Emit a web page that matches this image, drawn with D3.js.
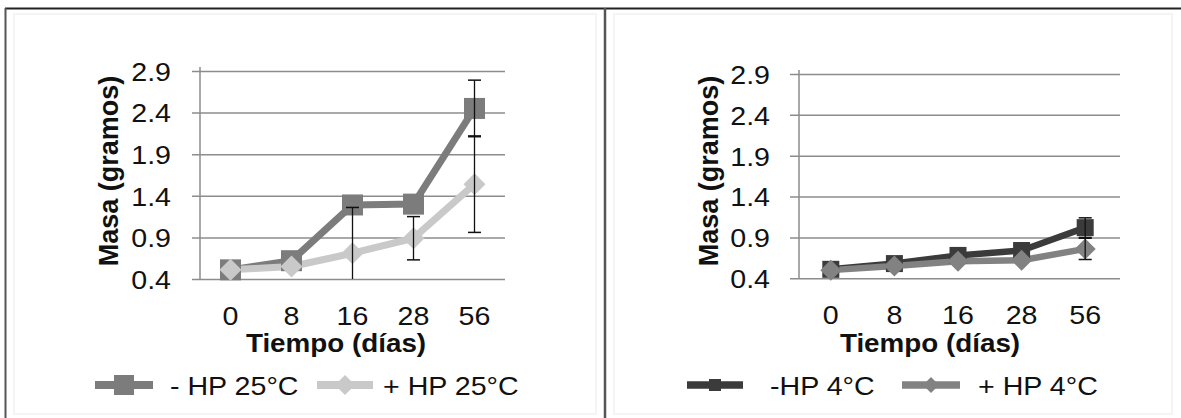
<!DOCTYPE html>
<html>
<head>
<meta charset="utf-8">
<script src="https://cdn.jsdelivr.net/npm/d3@7"></script>
<style>
  html, body { margin: 0; padding: 0; background: #fff; }
  svg { display: block; }
  text { font-family: "Liberation Sans", Arial, sans-serif; fill: #111; }
</style>
</head>
<body>
<svg id="chart" width="1181" height="418"></svg>
<script>
// ---------- data ----------
const categories = ["0", "8", "16", "28", "56"];
const yTicks = [0.4, 0.9, 1.4, 1.9, 2.4, 2.9];
const yTitle = "Masa (gramos)";
const xTitle = "Tiempo (días)";

// left panel (25 °C)
const seriesNames25 = ["- HP 25°C", "+ HP 25°C"];
const minusHP25 = [0.51, 0.62, 1.29, 1.30, 2.45];
const minusHP25Err = [0, 0, 0, 0, 0.34];
const plusHP25 = [0.51, 0.55, 0.71, 0.89, 1.54];
const plusHP25Err = [0, 0, 0.55, 0.26, 0.58];

// right panel (4 °C)
const seriesNames4 = ["-HP 4°C", "+ HP 4°C"];
const minusHP4 = [0.51, 0.58, 0.68, 0.74, 1.02];
const minusHP4Err = [0, 0, 0, 0, 0.12];
const plusHP4 = [0.50, 0.55, 0.61, 0.62, 0.76];
const plusHP4Err = [0, 0, 0, 0, 0.13];

// ---------- drawing ----------
const svg = d3.select("#chart");
const SX = 1.1; // horizontal text stretch seen in the reference

// frame lines
svg.append("line").attr("x1", 5).attr("x2", 1181).attr("y1", 8.5).attr("y2", 8.5)
  .attr("stroke", "#222").attr("stroke-width", 2);
svg.append("line").attr("x1", 5.5).attr("x2", 5.5).attr("y1", 8).attr("y2", 418)
  .attr("stroke", "#555").attr("stroke-width", 2);
svg.append("line").attr("x1", 605).attr("x2", 605).attr("y1", 8).attr("y2", 418)
  .attr("stroke", "#555").attr("stroke-width", 2.5);

const defs = svg.append("defs");
const blur = defs.append("filter").attr("id", "soft").attr("x", "-20%").attr("y", "-20%")
  .attr("width", "140%").attr("height", "140%");
blur.append("feGaussianBlur").attr("stdDeviation", 0.7);

function stretchedText(g, x, y, str, size, weight, anchor) {
  return g.append("text")
    .attr("transform", `translate(${x},${y}) scale(${SX},1)`)
    .attr("text-anchor", anchor || "start")
    .style("font-size", size + "px")
    .style("font-weight", weight || "normal")
    .text(str);
}

function panel(cfg) {
  const g = svg.append("g");
  const x = d3.scaleBand().domain(categories).range([cfg.left, cfg.right]);
  const y = d3.scaleLinear().domain([0.4, 2.9]).range([cfg.bottom, cfg.top]);

  // faint chart-area border
  g.append("rect").attr("x", cfg.areaX).attr("y", 14).attr("width", cfg.areaW).attr("height", 400)
    .attr("fill", "none").attr("stroke", "#f4f4f4").attr("stroke-width", 2);

  // gridlines + y labels
  const tickLen = cfg.gridRight - cfg.gridLeft;
  const ya = g.append("g").attr("transform", `translate(${cfg.gridRight},0)`)
    .call(d3.axisLeft(y).tickValues(yTicks).tickSize(tickLen).tickPadding(0)
      .tickFormat(d3.format(".1f")));
  ya.select(".domain").remove();
  ya.selectAll(".tick line").attr("stroke", "#8c8c8c").attr("stroke-width", 1.5);
  ya.selectAll(".tick text")
    .attr("x", -(cfg.gridRight - cfg.labelRight) / SX)
    .attr("dy", "0.36em")
    .attr("transform", `scale(${SX},1)`)
    .attr("fill", "#111")
    .style("font-size", "26px")
    .style("font-family", '"Liberation Sans", Arial, sans-serif');

  // y axis line
  g.append("line").attr("x1", cfg.left).attr("x2", cfg.left)
    .attr("y1", cfg.top - 4).attr("y2", cfg.bottom)
    .attr("stroke", "#8c8c8c").attr("stroke-width", 1.5);

  // x labels
  const xa = g.append("g").attr("transform", `translate(0,${cfg.bottom})`)
    .call(d3.axisBottom(x).tickSize(0));
  xa.select(".domain").remove();
  xa.selectAll(".tick text")
    .attr("y", 46).attr("dy", null)
    .attr("transform", `scale(${SX},1)`)
    .attr("fill", "#111")
    .style("font-size", "26px")
    .style("font-family", '"Liberation Sans", Arial, sans-serif');

  // axis titles
  g.append("text")
    .attr("transform", `translate(${cfg.yTitleX},171) rotate(-90)`)
    .attr("text-anchor", "middle")
    .style("font-size", "27px").style("font-weight", "bold")
    .text(yTitle);
  g.append("text")
    .attr("transform", `translate(${cfg.xTitleX},352) scale(1.07,1)`)
    .attr("text-anchor", "middle")
    .style("font-size", "26px").style("font-weight", "bold")
    .text(xTitle);

  // clip for error bars
  const clipId = "clip" + cfg.id;
  defs.append("clipPath").attr("id", clipId).append("rect")
    .attr("x", cfg.left).attr("y", 0).attr("width", cfg.right - cfg.left)
    .attr("height", cfg.bottom);

  const cx = d => x(d) + x.bandwidth() / 2;
  const line = d3.line().x((d, i) => cx(categories[i])).y(d => y(d));

  const series = cfg.series;
  // lines
  series.forEach(s => {
    g.append("path").datum(s.values).attr("d", line)
      .attr("fill", "none").attr("stroke", s.color).attr("stroke-width", s.width)
      .attr("stroke-linejoin", "round").attr("filter", "url(#soft)");
  });
  // markers
  series.forEach(s => {
    const mg = g.append("g").attr("filter", "url(#soft)");
    s.values.forEach((v, i) => {
      const px = cx(categories[i]), py = y(v);
      if (s.marker === "square") {
        mg.append("rect").attr("x", px - s.size / 2).attr("y", py - s.size / 2)
          .attr("width", s.size).attr("height", s.size).attr("fill", s.color);
      } else {
        const r = s.size / 2;
        mg.append("path").attr("d", `M${px},${py - r}L${px + r},${py}L${px},${py + r}L${px - r},${py}Z`)
          .attr("fill", s.color);
      }
    });
  });
  // error bars
  const eg = g.append("g").attr("clip-path", `url(#${clipId})`);
  series.forEach(s => {
    s.values.forEach((v, i) => {
      const e = s.err[i];
      if (!e) return;
      const px = cx(categories[i]);
      eg.append("line").attr("x1", px).attr("x2", px).attr("y1", y(v + e)).attr("y2", y(v - e))
        .attr("stroke", "#111").attr("stroke-width", 1.3);
      [v + e, v - e].forEach(t => {
        eg.append("line").attr("x1", px - 6.5).attr("x2", px + 6.5).attr("y1", y(t)).attr("y2", y(t))
          .attr("stroke", "#111").attr("stroke-width", 1.5);
      });
    });
  });

  // legend
  series.forEach((s, k) => {
    const L = cfg.legend[k];
    const lg = g.append("g").attr("filter", "url(#soft)");
    lg.append("line").attr("x1", L.x1).attr("x2", L.x2).attr("y1", 385).attr("y2", 385)
      .attr("stroke", s.color).attr("stroke-width", s.width + 1);
    const mx = (L.x1 + L.x2) / 2;
    const ms = s.legendSize;
    if (s.marker === "square") {
      lg.append("rect").attr("x", mx - ms / 2).attr("y", 385 - ms / 2)
        .attr("width", ms).attr("height", ms).attr("fill", s.color);
    } else {
      const r = ms / 2;
      lg.append("path").attr("d", `M${mx},${385 - r}L${mx + r},385L${mx},${385 + r}L${mx - r},385Z`)
        .attr("fill", s.color);
    }
    stretchedText(g, L.tx, 395, s.name, 26);
  });
}

panel({
  id: "L", left: 200, right: 505, top: 71, bottom: 279,
  gridLeft: 192, gridRight: 505, labelRight: 171,
  yTitleX: 118, xTitleX: 336, areaX: 14, areaW: 582,
  series: [
    { name: seriesNames25[0], values: minusHP25, err: minusHP25Err, color: "#7c7c7c",
      marker: "square", size: 21, legendSize: 20, width: 7 },
    { name: seriesNames25[1], values: plusHP25, err: plusHP25Err, color: "#c9c9c9",
      marker: "diamond", size: 22, legendSize: 20, width: 7 }
  ],
  legend: [ { x1: 95, x2: 153, tx: 170 }, { x1: 317, x2: 373, tx: 383 } ]
});

panel({
  id: "R", left: 799, right: 1117, top: 74, bottom: 278.3,
  gridLeft: 790, gridRight: 1120, labelRight: 770,
  yTitleX: 718, xTitleX: 930, areaX: 614, areaW: 558,
  series: [
    { name: seriesNames4[0], values: minusHP4, err: minusHP4Err, color: "#3b3b3b",
      marker: "square", size: 17, legendSize: 12, width: 6.5 },
    { name: seriesNames4[1], values: plusHP4, err: plusHP4Err, color: "#828282",
      marker: "diamond", size: 21, legendSize: 16, width: 6.5 }
  ],
  legend: [ { x1: 687, x2: 743, tx: 770 }, { x1: 902, x2: 960, tx: 978 } ]
});
</script>
</body>
</html>
